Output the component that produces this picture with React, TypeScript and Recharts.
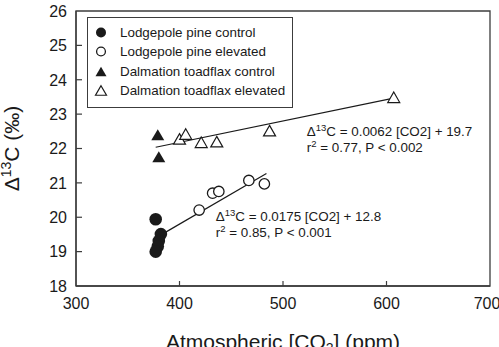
import {
  ScatterChart,
  Scatter,
  XAxis,
  YAxis,
  ReferenceArea,
  ReferenceLine,
  ReferenceDot,
  Legend,
} from "recharts";

const FONT = '"Liberation Sans", Arial, Helvetica, sans-serif';
const INK = "#1a1a1a";
const FRAME = "#3c3c3c";

// atmospheric CO2 (ppm) vs. carbon isotope discrimination (‰), one pair of arrays per treatment
const pineControlCo2 = [377, 382, 380, 379, 377];
const pineControlD13c = [19.94, 19.51, 19.31, 19.15, 19.0];
const pineElevatedCo2 = [419, 432, 438, 467, 482];
const pineElevatedD13c = [20.21, 20.7, 20.75, 21.07, 20.97];
const toadControlCo2 = [379, 380];
const toadControlD13c = [22.4, 21.76];
const toadElevatedCo2 = [400, 406, 421, 436, 487, 607];
const toadElevatedD13c = [22.28, 22.42, 22.18, 22.2, 22.52, 23.49];

const co2Ticks = [300, 400, 500, 600, 700];
const d13cTicks = [18, 19, 20, 21, 22, 23, 24, 25, 26];

const seriesNames = [
  "Lodgepole pine control",
  "Lodgepole pine elevated",
  "Dalmation toadflax control",
  "Dalmation toadflax elevated",
];

// regression fits: slope, intercept and the CO2 span they are drawn over
const pineFit = [0.0175, 12.8];
const pineFitSpan = [378, 484];
const toadFit = [0.0062, 19.7];
const toadFitSpan = [377, 607];

const toPoints = (co2: number[], d13c: number[]) =>
  co2.map((c, i) => ({ co2: c, d13c: d13c[i] }));

const fitSegment = (fit: number[], span: number[]) =>
  span.map((x) => ({ x, y: fit[0] * x + fit[1] }));

type MarkerKind = { shape: "circle" | "triangle"; filled: boolean };

const markerKinds: Record<string, MarkerKind> = {
  "Lodgepole pine control": { shape: "circle", filled: true },
  "Lodgepole pine elevated": { shape: "circle", filled: false },
  "Dalmation toadflax control": { shape: "triangle", filled: true },
  "Dalmation toadflax elevated": { shape: "triangle", filled: false },
};

const Marker = ({
  cx,
  cy,
  kind,
  small,
}: {
  cx: number;
  cy: number;
  kind: MarkerKind;
  small?: boolean;
}) => {
  if (kind.shape === "circle") {
    const r = kind.filled ? (small ? 5 : 6.3) : small ? 4.4 : 5.2;
    return (
      <circle
        cx={cx}
        cy={cy}
        r={r}
        fill={kind.filled ? INK : "#fff"}
        stroke={INK}
        strokeWidth={kind.filled ? 0 : 1.3}
      />
    );
  }
  const w = small ? 11 : kind.filled ? 13 : 12;
  const h = small ? 9.5 : kind.filled ? 11 : 10.5;
  const d = `M${cx},${cy - h / 2}L${cx + w / 2},${cy + h / 2}L${cx - w / 2},${cy + h / 2}Z`;
  return (
    <path
      d={d}
      fill={kind.filled ? INK : "#fff"}
      stroke={INK}
      strokeWidth={kind.filled ? 0 : 1.2}
      strokeLinejoin="miter"
    />
  );
};

const XTick = ({ x, y, payload }: any) => (
  <g>
    {payload.value > 300 && payload.value < 700 && (
      <line x1={x} x2={x} y1={y - 12} y2={y - 17} stroke={FRAME} strokeWidth={1.2} />
    )}
    <text x={x} y={y} dy="0.71em" textAnchor="middle" fontSize={16} fill={INK} fontFamily={FONT}>
      {payload.value}
    </text>
  </g>
);

const YTick = ({ x, y, payload }: any) => (
  <g>
    {payload.value > 18 && payload.value < 26 && (
      <line x1={x + 9} x2={x + 15} y1={y} y2={y} stroke={FRAME} strokeWidth={1.2} />
    )}
    <text x={x} y={y} dy="0.36em" textAnchor="end" fontSize={16} fill={INK} fontFamily={FONT}>
      {payload.value}
    </text>
  </g>
);

const YTitle = ({ viewBox }: any) => {
  const x = viewBox.x + 19;
  const y = viewBox.y + viewBox.height / 2;
  return (
    <text
      x={x}
      y={y}
      transform={`rotate(-90 ${x} ${y})`}
      textAnchor="middle"
      fontSize={21}
      fill={INK}
      fontFamily={FONT}
    >
      Δ
      <tspan fontSize={14} dy={-8}>
        13
      </tspan>
      <tspan dy={8}>C (‰)</tspan>
    </text>
  );
};

const XTitle = ({ viewBox }: any) => (
  <text
    x={viewBox.x + viewBox.width / 2}
    y={viewBox.y + 63}
    textAnchor="middle"
    fontSize={21}
    fill={INK}
    fontFamily={FONT}
  >
    Atmospheric [CO
    <tspan fontSize={14} dy={4}>
      2
    </tspan>
    <tspan dy={-4}>] (ppm)</tspan>
  </text>
);

// two-line regression annotation, left edge at the dot's position
const FitLabel = ({ viewBox, eq, stats }: any) => (
  <text x={viewBox.x} y={viewBox.y} fontSize={13.4} fill={INK} fontFamily={FONT}>
    <tspan>Δ</tspan>
    <tspan fontSize={9.5} dy={-5}>
      13
    </tspan>
    <tspan dy={5}>{`C = ${eq}`}</tspan>
    <tspan x={viewBox.x} dy={16}>
      r
    </tspan>
    <tspan fontSize={9.5} dy={-5}>
      2
    </tspan>
    <tspan dy={5}>{` = ${stats}`}</tspan>
  </text>
);

const LegendBox = () => (
  <div
    style={{
      border: `1px solid ${FRAME}`,
      boxSizing: "border-box",
      height: 91,
      paddingTop: 4.5,
      background: "#fff",
      fontFamily: FONT,
      fontSize: 13.4,
      color: INK,
    }}
  >
    {seriesNames.map((name) => (
      <div key={name} style={{ display: "flex", alignItems: "center", height: 19.5 }}>
        <svg width={32} height={19} style={{ display: "block" }}>
          <Marker cx={13} cy={9.5} kind={markerKinds[name]} small />
        </svg>
        <span style={{ whiteSpace: "nowrap" }}>{name}</span>
      </div>
    ))}
  </div>
);

const series = [
  { name: seriesNames[0], data: toPoints(pineControlCo2, pineControlD13c) },
  { name: seriesNames[1], data: toPoints(pineElevatedCo2, pineElevatedD13c) },
  { name: seriesNames[2], data: toPoints(toadControlCo2, toadControlD13c) },
  { name: seriesNames[3], data: toPoints(toadElevatedCo2, toadElevatedD13c) },
];

export default function App() {
  return (
    <div style={{ position: "absolute", left: 0, top: 0, background: "#fff" }}>
      <ScatterChart width={499} height={347} margin={{ top: 11, right: 9, bottom: 0, left: 0 }}>
        <XAxis
          type="number"
          dataKey="co2"
          domain={[300, 700]}
          ticks={co2Ticks}
          allowDataOverflow
          height={61}
          tickSize={0}
          tickMargin={12}
          tickLine={false}
          axisLine={{ stroke: FRAME, strokeWidth: 1.3 }}
          tick={<XTick />}
          label={<XTitle />}
        />
        <YAxis
          type="number"
          dataKey="d13c"
          domain={[18, 26]}
          ticks={d13cTicks}
          allowDataOverflow
          width={76}
          tickSize={0}
          tickMargin={9}
          tickLine={false}
          axisLine={{ stroke: FRAME, strokeWidth: 1.3 }}
          tick={<YTick />}
          label={<YTitle />}
        />
        <ReferenceArea
          x1={300}
          x2={700}
          y1={18}
          y2={26}
          fill="none"
          stroke={FRAME}
          strokeWidth={1.3}
        />
        <ReferenceLine
          segment={fitSegment(toadFit, toadFitSpan)}
          stroke={INK}
          strokeWidth={1.2}
          ifOverflow="visible"
        />
        <ReferenceLine
          segment={fitSegment(pineFit, pineFitSpan)}
          stroke={INK}
          strokeWidth={1.2}
          ifOverflow="visible"
        />
        {series.map((s) => (
          <Scatter
            key={s.name}
            name={s.name}
            data={s.data}
            isAnimationActive={false}
            shape={(p: any) => <Marker cx={p.cx} cy={p.cy} kind={markerKinds[s.name]} />}
          />
        ))}
        <ReferenceDot
          x={523}
          y={22.35}
          r={0}
          fill="none"
          stroke="none"
          ifOverflow="visible"
          label={<FitLabel eq="0.0062 [CO2] + 19.7" stats="0.77, P < 0.002" />}
        />
        <ReferenceDot
          x={435}
          y={19.9}
          r={0}
          fill="none"
          stroke="none"
          ifOverflow="visible"
          label={<FitLabel eq="0.0175 [CO2] + 12.8" stats="0.85, P < 0.001" />}
        />
        <Legend
          layout="vertical"
          align="center"
          verticalAlign="middle"
          width={206}
          wrapperStyle={{ left: 87, top: 17 }}
          content={<LegendBox />}
        />
      </ScatterChart>
    </div>
  );
}
